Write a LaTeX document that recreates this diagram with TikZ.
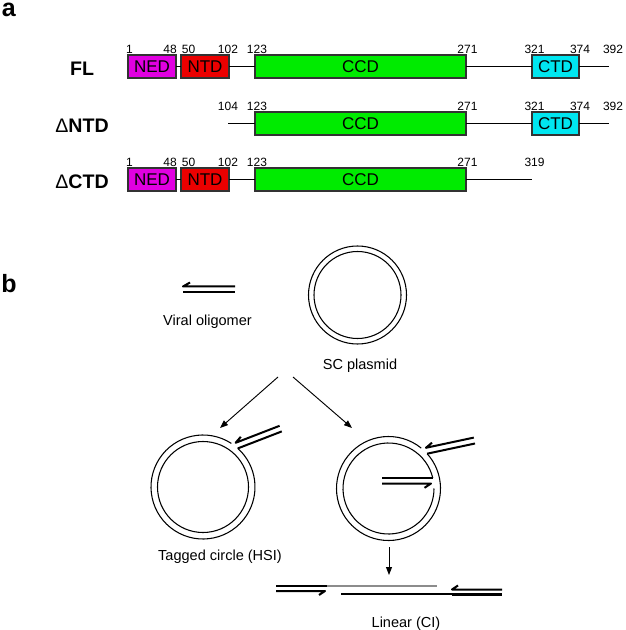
\documentclass[tikz,border=0pt]{standalone}
\usepackage{fontspec}
\setmainfont{Liberation Sans}
\usetikzlibrary{arrows.meta,calc}
\definecolor{nedc}{RGB}{225,0,225}
\definecolor{ntdc}{RGB}{235,0,0}
\definecolor{ccdc}{RGB}{0,235,0}
\definecolor{ctdc}{RGB}{0,230,240}
\definecolor{boxline}{RGB}{50,50,50}
\definecolor{greystrand}{RGB}{140,140,140}
\begin{document}
\begin{tikzpicture}[x=0.75pt,y=-0.75pt,
  dom/.style={draw=boxline, line width=0.9pt, inner sep=0pt, outer sep=0pt, minimum height=17.25pt, anchor=north west, font=\fontsize{12.75}{14}\selectfont},
  num/.style={inner sep=0pt, anchor=base, font=\fontsize{9}{10}\selectfont},
  rowlab/.style={inner sep=0pt, anchor=base, font=\fontsize{14.7}{16}\selectfont\bfseries},
  panel/.style={inner sep=0pt, anchor=base west, font=\fontsize{18.75}{20}\selectfont\bfseries},
  link/.style={line width=0.9pt},
  blab/.style={inner sep=0pt, anchor=base, font=\fontsize{10.9}{12}\selectfont},
  strand/.style={line width=1.5pt, line cap=butt, line join=round},
  ring/.style={line width=0.8pt},
  flow/.style={line width=0.7pt, -{Triangle[length=6pt,width=4.5pt]}},
]
\useasboundingbox (0,0) rectangle (625,630);

% ---------------- panel a ----------------
\node[panel] (la) at (1.5,17) {a};

% row 1: FL
\node[rowlab] (fl) at (82,76) {FL};
\node[dom, fill=nedc, minimum width=36pt] (ned1) at (128,55) {NED};
\node[dom, fill=ntdc, minimum width=36pt] (ntd1) at (181,55) {NTD};
\node[dom, fill=ccdc, minimum width=158.25pt] (ccd1) at (255,55) {CCD};
\node[dom, fill=ctdc, minimum width=35.25pt] (ctd1) at (532,55) {CTD};
\coordinate (end1) at (609,66.5);
\draw[link] (ned1.east) -- (ntd1.west) (ntd1.east) -- (ccd1.west)
            (ccd1.east) -- (ctd1.west) (ctd1.east) -- (end1);
\node[num] (n1a) at (129.5,54) {1};
\node[num] (n1b) at (170,54) {48};
\node[num] (n1c) at (188.5,54) {50};
\node[num] (n1d) at (228,54) {102};
\node[num] (n1e) at (257,54) {123};
\node[num] (n1f) at (467.5,54) {271};
\node[num] (n1g) at (534.5,54) {321};
\node[num] (n1h) at (580,54) {374};
\node[num] (n1i) at (613,54) {392};

% row 2: dNTD
\node[rowlab] (dntd) at (82,132.5) {{\mdseries Δ}NTD};
\coordinate (st2) at (228,123.5);
\node[dom, fill=ccdc, minimum width=158.25pt] (ccd2) at (255,112) {CCD};
\node[dom, fill=ctdc, minimum width=35.25pt] (ctd2) at (532,112) {CTD};
\coordinate (end2) at (609,123.5);
\draw[link] (st2) -- (ccd2.west) (ccd2.east) -- (ctd2.west) (ctd2.east) -- (end2);
\node[num] (n2a) at (228,111) {104};
\node[num] (n2b) at (257,111) {123};
\node[num] (n2c) at (467.5,111) {271};
\node[num] (n2d) at (534.5,111) {321};
\node[num] (n2e) at (580,111) {374};
\node[num] (n2f) at (613,111) {392};

% row 3: dCTD
\node[rowlab] (dctd) at (82,189) {{\mdseries Δ}CTD};
\node[dom, fill=nedc, minimum width=36pt] (ned3) at (128,168) {NED};
\node[dom, fill=ntdc, minimum width=36pt] (ntd3) at (181,168) {NTD};
\node[dom, fill=ccdc, minimum width=158.25pt] (ccd3) at (255,168) {CCD};
\coordinate (end3) at (532,179.5);
\draw[link] (ned3.east) -- (ntd3.west) (ntd3.east) -- (ccd3.west) (ccd3.east) -- (end3);
\node[num] (n3a) at (129.5,167) {1};
\node[num] (n3b) at (170,167) {48};
\node[num] (n3c) at (188.5,167) {50};
\node[num] (n3d) at (228,167) {102};
\node[num] (n3e) at (257,167) {123};
\node[num] (n3f) at (467.5,167) {271};
\node[num] (n3g) at (534.5,167) {319};

% ---------------- panel b ----------------
\node[panel] (lb) at (1,292) {b};

% viral oligomer
\draw[strand] (190,282.5) -- (183,286.5) -- (235,286.5);
\draw[strand] (183,292) -- (235,292);
\node[blab] (vo) at (207.5,325) {Viral oligomer};

% SC plasmid
\coordinate (c0) at (357.5,295);
\draw[ring] (c0) circle[radius=49];
\draw[ring] (c0) circle[radius=43.5];
\node[blab] (scl) at (360,369) {SC plasmid};

% branching arrows
\coordinate (fork1) at (278,377);
\coordinate (fork2) at (293,377);
\coordinate (tipL) at (220,428);
\coordinate (tipR) at (352,428);
\draw[flow] (fork1) -- (tipL);
\draw[flow] (fork2) -- (tipR);

% tagged circle (HSI)
\coordinate (c1) at (203,487);
\draw[ring] ($(c1)+(-57:52)$) arc[start angle=-57, end angle=-408, radius=52];
\draw[ring] (c1) circle[radius=45.5];
\draw[strand] (240.8,436.8) -- (235.6,442.8) -- (279.6,425.8);
\draw[strand] (237.8,448.4) -- (281.8,431.4);
\node[blab] (tc) at (220,560) {Tagged circle (HSI)};

% second circle
\coordinate (c2) at (388.5,488.5);
\draw[ring] ($(c2)+(-51:52)$) arc[start angle=-51, end angle=-402, radius=52];
\draw[ring] ($(c2)+(-13.3:45.5)$) arc[start angle=-13.3, end angle=-360, radius=45.5];
\draw[strand] (432,442.7) -- (425.9,447.8) -- (473.8,437.6);
\draw[strand] (427.1,453.7) -- (475,443.5);
\draw[strand] (382,478) -- (432.8,478);
\draw[strand] (382,483.5) -- (431,483.5) -- (424.5,487.8);

% down arrow
\coordinate (dn1) at (389,547);
\coordinate (dn2) at (389,575);
\draw[flow] (dn1) -- (dn2);

% linear (CI)
\draw[strand] (276,586) -- (327,586);
\draw[strand] (276,591) -- (325,591) -- (319,595);
\draw[line width=0.9pt, greystrand] (327,586) -- (437,586);
\draw[line width=0.8pt] (341,594) -- (502,594);
\draw[strand] (458,585.5) -- (452,589.5) -- (502,589.5);
\draw[strand] (452,594.8) -- (502,594.8);
\node[blab] (lin) at (406,627) {Linear (CI)};
\end{tikzpicture}
\end{document}
